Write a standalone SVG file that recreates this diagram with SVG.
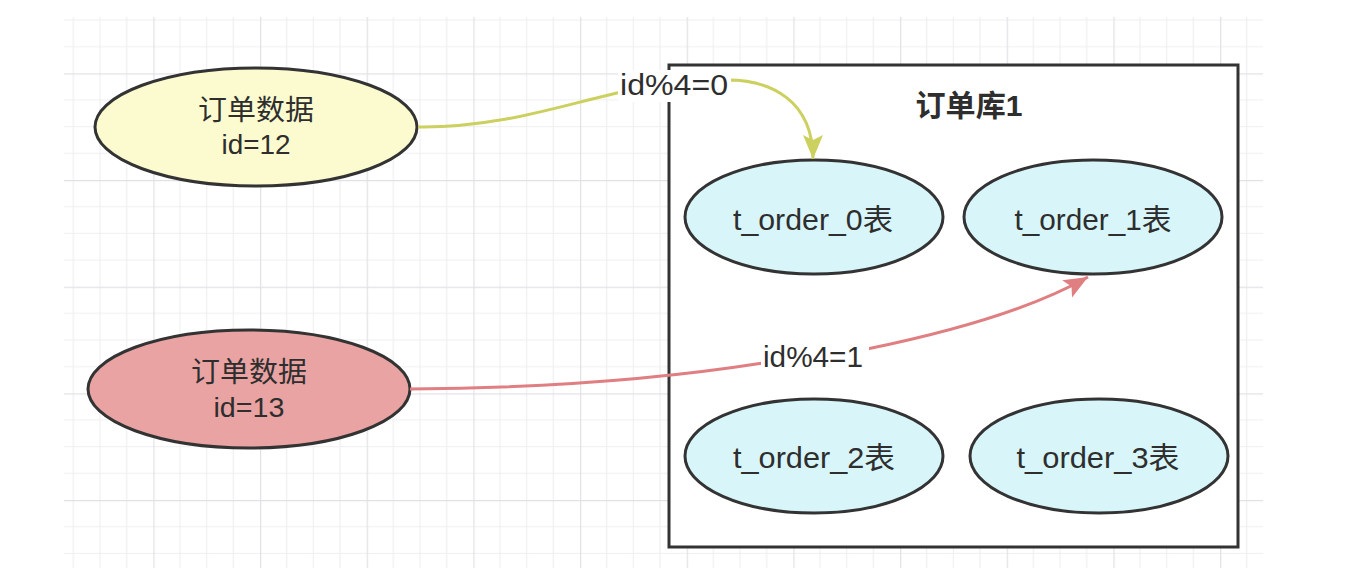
<svg xmlns="http://www.w3.org/2000/svg" width="1350" height="588" viewBox="0 0 1350 588">
  <defs>
    <pattern id="grid" patternUnits="userSpaceOnUse" x="46.67" y="73.33" width="106.67" height="106.67">
      <path d="M26.67 0V106.67M53.33 0V106.67M80 0V106.67M0 26.67H106.67M0 53.33H106.67M0 80H106.67" stroke="#efeff1" stroke-width="1.2" fill="none"/>
      <path d="M0.6 0V106.67M0 0.6H106.67" stroke="#e2e2e6" stroke-width="1.3" fill="none"/>
    </pattern>
    <marker id="arrY" markerUnits="userSpaceOnUse" markerWidth="26" markerHeight="22" refX="24" refY="10" orient="auto">
      <path d="M0,0 L24,10 L0,20 L5,10 Z" fill="#cbd05e"/>
    </marker>
    <marker id="arrR" markerUnits="userSpaceOnUse" markerWidth="26" markerHeight="22" refX="24" refY="10" orient="auto">
      <path d="M0,0 L24,10 L0,20 L5,10 Z" fill="#e07f82"/>
    </marker>
  </defs>
  <style>
    text { font-family: "Liberation Sans", "Noto Sans CJK SC", sans-serif; fill: #2e2e2e; text-anchor: middle; }
    .node { stroke: #333333; stroke-width: 3; }
    .data { font-size: 28px; }
    .tbl { font-size: 30px; }
    .lbl { font-size: 29px; }
    .title { font-size: 30px; font-weight: bold; }
  </style>
  <rect x="0" y="0" width="1350" height="588" fill="#ffffff"/>
  <rect x="64" y="17" width="1199" height="551" fill="url(#grid)"/>

  <g id="db1">
    <rect x="669" y="65" width="569" height="482" fill="#ffffff" stroke="#333333" stroke-width="3"/>
    <text class="title" x="969" y="116" textLength="107" lengthAdjust="spacingAndGlyphs">订单库1</text>
  </g>

  <g id="data12">
    <ellipse class="node" cx="256" cy="127" rx="161" ry="59" fill="#fcfbcf"/>
    <text class="data" x="256" y="120" textLength="116" lengthAdjust="spacingAndGlyphs">订单数据</text>
    <text class="data" x="256" y="154" textLength="69" lengthAdjust="spacingAndGlyphs">id=12</text>
  </g>

  <g id="data13">
    <ellipse class="node" cx="249" cy="389" rx="161" ry="59" fill="#e9a3a3"/>
    <text class="data" x="249" y="382" textLength="116" lengthAdjust="spacingAndGlyphs">订单数据</text>
    <text class="data" x="249" y="417" textLength="71" lengthAdjust="spacingAndGlyphs">id=13</text>
  </g>

  <g id="t_order_0">
    <ellipse class="node" cx="814" cy="217" rx="129" ry="57" fill="#d8f6fa"/>
    <text class="tbl" x="813" y="230" textLength="160" lengthAdjust="spacingAndGlyphs">t_order_0表</text>
  </g>
  <g id="t_order_1">
    <ellipse class="node" cx="1093" cy="217" rx="129" ry="57" fill="#d8f6fa"/>
    <text class="tbl" x="1093" y="230" textLength="157" lengthAdjust="spacingAndGlyphs">t_order_1表</text>
  </g>
  <g id="t_order_2">
    <ellipse class="node" cx="814" cy="456" rx="129" ry="57" fill="#d8f6fa"/>
    <text class="tbl" x="814" y="468" textLength="162" lengthAdjust="spacingAndGlyphs">t_order_2表</text>
  </g>
  <g id="t_order_3">
    <ellipse class="node" cx="1099" cy="456" rx="129" ry="57" fill="#d8f6fa"/>
    <text class="tbl" x="1098" y="468" textLength="163" lengthAdjust="spacingAndGlyphs">t_order_3表</text>
  </g>

  <g id="connectors" fill="none">
    <path d="M418 127 C500 128, 565 104, 622 92 L728 80 C770 80, 813 100, 813 159" stroke="#cbd05e" stroke-width="3" marker-end="url(#arrY)"/>
    <rect x="618" y="70" width="113" height="32" fill="#ffffff"/>
    <text class="lbl" x="674" y="95" textLength="108" lengthAdjust="spacingAndGlyphs">id%4=0</text>

    <path d="M410 389 C560 388, 680 376, 763 363 L867 349 C950 332, 1030 310, 1088 277" stroke="#e07f82" stroke-width="3" marker-end="url(#arrR)"/>
    <rect x="761" y="342" width="108" height="32" fill="#ffffff"/>
    <text class="lbl" x="813" y="367" textLength="100" lengthAdjust="spacingAndGlyphs">id%4=1</text>
  </g>
</svg>
